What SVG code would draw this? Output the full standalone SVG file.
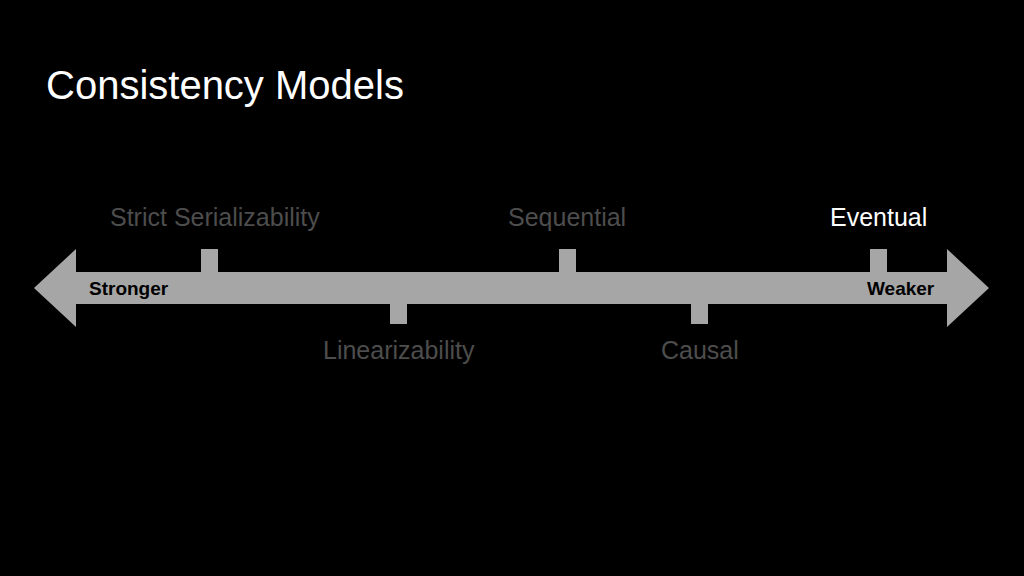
<svg xmlns="http://www.w3.org/2000/svg" width="1024" height="576" viewBox="0 0 1024 576">
<style>
text{font-family:"Liberation Sans",Arial,sans-serif}
.title{font-size:40px;fill:#ffffff}
.lbl{font-size:25px;fill:#4d4d4d}
.on{fill:#ffffff}
.end{font-size:19px;font-weight:bold;fill:#000000}
.bar{fill:#a6a6a6}
</style>
<rect width="1024" height="576" fill="#000000"/>
<text class="title" x="46" y="99">Consistency Models</text>
<g id="connectors">
<polygon id="axis" class="bar" points="34,288 76,249 76,272 947,272 947,249 989,288 947,327 947,304 76,304 76,327"/>
</g>
<g id="stronger"><text class="end" x="89" y="295">Stronger</text></g>
<g id="weaker"><text class="end" x="867" y="295">Weaker</text></g>
<g id="strict-serializability">
<rect class="bar" x="201" y="249" width="17" height="24"/>
<text class="lbl" x="110" y="226">Strict Serializability</text>
</g>
<g id="linearizability">
<rect class="bar" x="390" y="303" width="17" height="21"/>
<text class="lbl" x="323" y="359">Linearizability</text>
</g>
<g id="sequential">
<rect class="bar" x="559" y="249" width="17" height="24"/>
<text class="lbl" x="508" y="226">Sequential</text>
</g>
<g id="causal">
<rect class="bar" x="691" y="303" width="17" height="21"/>
<text class="lbl" x="661" y="359">Causal</text>
</g>
<g id="eventual">
<rect class="bar" x="870" y="249" width="17" height="24"/>
<text class="lbl on" x="830" y="226">Eventual</text>
</g>
</svg>
